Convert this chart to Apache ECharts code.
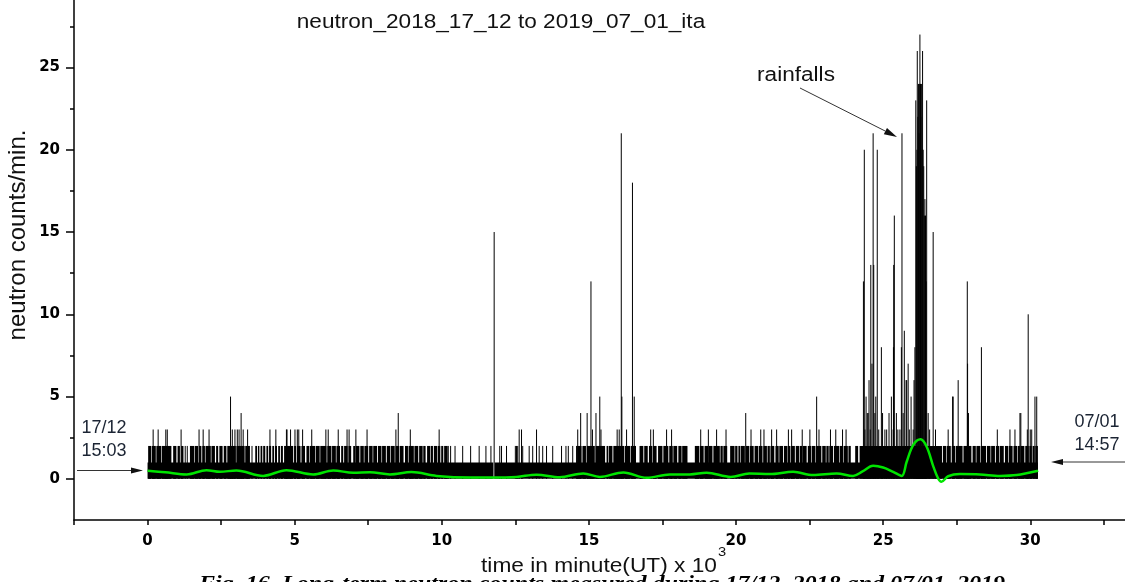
<!DOCTYPE html>
<html>
<head>
<meta charset="utf-8">
<script src="https://cdn.jsdelivr.net/npm/echarts@6/dist/echarts.min.js"></script>
<style>
  html, body { margin: 0; padding: 0; background: #fff; }
  #chart { width: 1125px; height: 582px; }
</style>
</head>
<body>
<div id="chart"></div>
<script>
// Neutron counts per minute, 17/12 15:03 to 07/01 14:57. Time axis in 10^3 minutes.

// counts of 0..1 are recorded all along, except a short hole in the record
const baseRuns = [[0.0, 11.75], [11.80, 30.26]];

// stretches where a count of 2 occurs almost every few minutes
const twoSpans = [[0.02, 10.2], [14.6, 30.26]];
// short stretches inside those where no 2 was counted
const twoGaps = [
  [0.12, 0.14], [0.28, 0.30], [0.46, 0.48], [0.81, 0.87], [0.98, 1.02], [1.10, 1.14],
  [1.22, 1.44], [1.58, 1.60], [1.72, 1.75], [1.83, 1.86], [1.95, 1.97], [2.15, 2.17],
  [2.29, 2.33], [2.40, 2.44], [2.55, 2.59], [2.68, 2.71], [3.00, 3.02], [3.30, 3.32],
  [3.48, 3.66], [3.72, 3.75], [3.80, 3.84], [3.90, 3.93], [4.00, 4.04], [4.10, 4.13],
  [4.20, 4.24], [4.30, 4.33], [4.40, 4.44], [4.50, 4.53], [4.60, 4.64], [4.95, 4.98],
  [5.05, 5.08], [5.20, 5.23], [5.35, 5.40], [5.50, 5.52], [5.70, 5.72], [5.85, 5.87],
  [6.08, 6.11], [6.25, 6.27], [6.40, 6.42], [6.54, 6.58], [6.65, 6.68], [6.80, 6.83],
  [6.92, 6.99], [7.05, 7.07], [7.20, 7.23], [7.35, 7.37], [7.50, 7.53], [7.65, 7.67],
  [7.80, 7.83], [7.95, 7.97], [8.10, 8.13], [8.25, 8.27], [8.40, 8.43], [8.55, 8.57],
  [8.70, 8.75], [8.85, 8.87], [9.05, 9.07], [9.20, 9.23], [9.35, 9.37], [9.45, 9.50],
  [9.60, 9.62], [9.70, 9.73], [9.85, 9.87], [9.95, 9.98], [10.05, 10.08],
  [14.75, 14.78], [14.90, 14.93], [15.20, 15.23], [15.55, 15.60], [15.65, 15.67],
  [15.80, 15.83], [16.20, 16.22], [16.40, 16.42], [16.60, 16.72], [16.85, 16.88],
  [17.00, 17.04], [17.15, 17.17], [17.30, 17.35], [17.50, 17.53], [17.70, 17.73],
  [17.85, 17.87], [18.00, 18.04], [18.15, 18.17], [18.35, 18.60], [18.75, 18.77],
  [18.90, 18.93], [19.05, 19.07], [19.20, 19.23], [19.45, 19.47], [19.55, 19.57],
  [19.70, 19.80], [19.95, 19.97], [20.05, 20.08], [20.15, 20.17], [20.30, 20.33],
  [20.45, 20.47], [20.60, 20.63], [20.75, 20.77], [20.90, 20.93], [21.05, 21.07],
  [21.15, 21.17], [21.30, 21.34], [21.45, 21.47], [21.60, 21.63], [21.75, 21.77],
  [21.85, 21.87], [22.00, 22.03], [22.15, 22.17], [22.25, 22.27], [22.40, 22.44],
  [22.55, 22.57], [22.70, 22.72], [22.90, 22.93], [23.05, 23.07], [23.15, 23.17],
  [23.30, 23.33], [23.50, 23.52], [23.65, 23.67], [23.80, 23.82], [23.90, 24.05],
  [24.15, 24.20], [27.00, 27.03], [27.15, 27.17], [27.30, 27.33], [27.45, 27.47],
  [27.70, 27.73], [27.85, 27.87], [28.00, 28.04], [28.15, 28.17], [28.30, 28.32],
  [28.50, 28.53], [28.65, 28.67], [28.80, 28.83], [28.95, 28.97], [29.10, 29.14],
  [29.25, 29.27], [29.40, 29.43], [29.55, 29.57], [29.65, 29.67], [29.80, 29.83],
  [29.95, 29.97], [30.05, 30.08], [30.15, 30.17]
];
// isolated minutes with a count of 2 in the quiet stretches
const twoSingles = [
  1.28, 1.35, 3.55, 10.22, 10.30, 10.45, 10.71, 10.98, 11.27, 11.50, 11.67, 11.97,
  12.03, 12.20, 12.50, 12.54, 12.58, 12.75, 12.97, 13.09, 13.31, 13.43, 13.56, 13.77,
  14.07, 14.22, 14.30, 14.45, 14.58
];

// counts of 3 and above
const spikeTime = [
  0.19, 0.36, 0.62, 0.67, 1.14, 1.75, 1.89, 2.09, 2.82, 2.88, 2.97, 3.05, 3.11, 3.18,
  3.25, 3.40, 4.16, 4.36, 4.72, 4.74, 4.86, 5.01, 5.09, 5.14, 5.27, 5.58, 6.06, 6.14,
  6.48, 6.78, 6.85, 7.08, 7.46, 8.44, 8.52, 8.93, 9.91, 11.78, 12.63, 12.71, 13.22,
  14.62, 14.72, 14.94, 15.07, 15.12, 15.24, 15.37, 15.41, 15.96, 16.03, 16.10, 16.12,
  16.28, 16.48, 16.54, 17.10, 17.19, 17.64, 17.81, 18.80, 19.06, 19.34, 19.66, 20.33,
  20.51, 20.84, 20.95, 21.21, 21.38, 21.78, 21.89, 22.25, 22.51, 22.74, 22.82, 23.21,
  23.39, 23.62, 23.74,
  24.33, 24.36, 24.38, 24.42, 24.46, 24.49, 24.52, 24.56, 24.58, 24.62, 24.66, 24.68,
  24.72, 24.75, 24.80, 24.85, 24.94, 24.98, 25.06, 25.12, 25.20, 25.28, 25.34, 25.35,
  25.36, 25.38, 25.45, 25.50, 25.57, 25.62, 25.64, 25.68, 25.72, 25.78, 25.80, 25.85,
  25.89, 25.95, 26.02, 26.05, 26.08, 26.11, 26.13, 26.15, 26.16, 26.18, 26.20, 26.22,
  26.23, 26.25, 26.27, 26.28, 26.30, 26.32, 26.34, 26.36, 26.38, 26.40, 26.42, 26.44,
  26.46, 26.48, 26.53, 26.58, 26.70, 26.78,
  27.21, 27.36, 27.38, 27.55, 27.86, 27.87, 27.90, 28.34, 28.88, 29.31, 29.48, 29.65,
  29.68, 29.90, 29.93, 30.00, 30.05, 30.16, 30.22
];
const spikeCount = [
  3, 3, 3, 3, 3, 3, 3, 3, 5, 3, 3, 3, 3, 4,
  3, 3, 3, 3, 3, 3, 3, 3, 3, 3, 3, 3, 3, 3,
  3, 3, 3, 3, 3, 3, 4, 3, 3, 15, 3, 3, 3,
  3, 4, 4, 12, 3, 4, 5, 3, 3, 3, 21, 5,
  3, 18, 5, 3, 3, 3, 3, 3, 3, 3, 3, 4,
  3, 3, 3, 3, 3, 3, 3, 3, 3, 5, 3, 3,
  3, 3, 3,
  12, 20, 3, 5, 4, 4, 6, 3, 13, 7, 21, 13,
  4, 5, 20, 3, 8, 4, 3, 3, 4, 5, 3, 8,
  13, 16, 4, 3, 3, 8, 21, 4, 9, 6, 6, 7,
  3, 5, 3, 6, 8, 23, 19, 20, 26, 22, 24, 21,
  24, 27, 24, 22, 24, 20, 26, 20, 19, 16, 17, 16,
  12, 23, 4, 3, 15, 3,
  3, 5, 5, 6, 12, 7, 4, 8, 3, 3, 3, 4,
  4, 3, 10, 3, 3, 5, 5
];

// running mean of the counts
const trendTime = [
  0.0, 0.6, 1.33, 2.0, 2.46, 3.02, 3.93, 4.72, 5.63, 6.31, 6.99, 7.56, 8.24, 8.97,
  9.82, 10.96, 11.75, 12.54, 13.22, 14.01, 14.81, 15.37, 16.17, 16.96, 17.75, 18.43,
  19.0, 19.82, 20.45, 21.15, 21.94, 22.62, 23.42, 23.98, 24.3, 24.66, 25.0, 25.34,
  25.63, 25.80, 26.02, 26.27, 26.48, 26.71, 26.87, 26.98, 27.21, 27.61, 28.29, 28.97,
  29.54, 30.27
];
const trendCount = [
  0.49, 0.40, 0.27, 0.53, 0.43, 0.51, 0.18, 0.53, 0.27, 0.51, 0.37, 0.40, 0.27, 0.41,
  0.18, 0.08, 0.08, 0.12, 0.25, 0.10, 0.33, 0.12, 0.39, 0.06, 0.27, 0.27,
  0.37, 0.12, 0.32, 0.29, 0.43, 0.23, 0.33, 0.18, 0.45, 0.79, 0.69, 0.43,
  0.18, 1.04, 2.05, 2.40, 1.95, 0.73, 0.02, -0.18, 0.16, 0.29, 0.27, 0.18,
  0.23, 0.49
];

const xTickValues = [-2.5, 0, 2.5, 5, 7.5, 10, 12.5, 15, 17.5, 20, 22.5, 25, 27.5, 30, 32.5];
const xLabelValues = [0, 5, 10, 15, 20, 25, 30];
const yLabelValues = [0, 5, 10, 15, 20, 25];
const yMinorValues = [2.5, 7.5, 12.5, 17.5, 22.5, 27.5];

// split the 2-count stretches at their gaps
function runsBetweenGaps(spans, gaps) {
  const runs = [];
  spans.forEach(function (span) {
    let cur = span[0];
    gaps.filter(function (g) { return g[0] >= span[0] && g[1] <= span[1]; })
      .sort(function (a, b) { return a[0] - b[0]; })
      .forEach(function (g) {
        if (g[0] > cur) runs.push([cur, g[0]]);
        cur = Math.max(cur, g[1]);
      });
    if (cur < span[1]) runs.push([cur, span[1]]);
  });
  return runs;
}

const bandData = baseRuns.map(function (r) { return [r[0], r[1], 1]; })
  .concat(runsBetweenGaps(twoSpans, twoGaps).map(function (r) { return [r[0], r[1], 2]; }));
const lineData = twoSingles.map(function (t) { return [t, 2]; })
  .concat(spikeTime.map(function (t, i) { return [t, spikeCount[i]]; }));
const trendData = trendTime.map(function (t, i) { return [t, trendCount[i]]; });

const FONT = '"Liberation Sans", Arial, sans-serif';
const TICK_FONT = '"DejaVu Sans", sans-serif';
const INK = '#000';

const chart = echarts.init(document.getElementById('chart'), null, { renderer: 'canvas' });

const valueAxisY = {
  type: 'value', min: -2.5, max: 29.1, position: 'left',
  splitLine: { show: false }
};

chart.setOption({
  animation: false,
  backgroundColor: '#fff',
  grid: { left: 74, right: 0, top: 0, bottom: 62, containLabel: false },
  xAxis: {
    type: 'value', min: -2.5, max: 33.22,
    axisLine: { onZero: false, lineStyle: { color: INK, width: 1.5 } },
    axisTick: { customValues: xTickValues, length: 5, lineStyle: { color: INK, width: 1.5 } },
    axisLabel: {
      customValues: xLabelValues, margin: 14,
      color: INK, fontFamily: TICK_FONT, fontWeight: 'bold', fontSize: 15
    },
    splitLine: { show: false }
  },
  yAxis: [
    Object.assign({}, valueAxisY, {
      axisLine: { onZero: false, lineStyle: { color: INK, width: 1.5 } },
      axisTick: { customValues: yLabelValues, length: 8, lineStyle: { color: INK, width: 1.5 } },
      axisLabel: {
        customValues: yLabelValues, margin: 14,
        color: INK, fontFamily: TICK_FONT, fontWeight: 'bold', fontSize: 15
      }
    }),
    Object.assign({}, valueAxisY, {
      axisLine: { show: false, onZero: false },
      axisTick: { customValues: yMinorValues, length: 4, lineStyle: { color: INK, width: 1.5 } },
      axisLabel: { show: false }
    })
  ],
  series: [
    {
      // 0..1 and 2-count stretches drawn as filled blocks
      type: 'custom',
      coordinateSystem: 'cartesian2d',
      encode: { x: [0, 1], y: 2 },
      data: bandData,
      renderItem: function (params, api) {
        const a = api.coord([api.value(0), 0]);
        const b = api.coord([api.value(1), api.value(2)]);
        return {
          type: 'rect',
          shape: { x: a[0], y: b[1], width: Math.max(b[0] - a[0], 0.5), height: a[1] - b[1] },
          style: { fill: INK }
        };
      },
      z: 2
    },
    {
      // single minutes drawn as vertical strokes from zero
      type: 'custom',
      coordinateSystem: 'cartesian2d',
      encode: { x: 0, y: 1 },
      data: lineData,
      renderItem: function (params, api) {
        const a = api.coord([api.value(0), 0]);
        const b = api.coord([api.value(0), api.value(1)]);
        return {
          type: 'line',
          shape: { x1: a[0], y1: a[1], x2: b[0], y2: b[1] },
          style: { stroke: INK, lineWidth: 1 }
        };
      },
      z: 3
    },
    {
      type: 'line',
      data: trendData,
      smooth: 0.35,
      showSymbol: false,
      symbol: 'none',
      lineStyle: { color: '#00e400', width: 2.5 },
      z: 5
    }
  ]
});

// arrow helper for the annotations
function arrow(x1, y1, x2, y2, headLen, headHalf) {
  const dx = x2 - x1, dy = y2 - y1, len = Math.sqrt(dx * dx + dy * dy);
  const ux = dx / len, uy = dy / len;
  const bx = x2 - ux * headLen, by = y2 - uy * headLen;
  return [
    { type: 'line', shape: { x1: x1, y1: y1, x2: bx, y2: by },
      style: { stroke: '#333', lineWidth: 1 }, z: 20 },
    { type: 'polygon',
      shape: { points: [[x2, y2], [bx - uy * headHalf, by + ux * headHalf], [bx + uy * headHalf, by - ux * headHalf]] },
      style: { fill: '#111' }, z: 20 }
  ];
}

function label(text, x, y, size, opts) {
  const o = opts || {};
  return {
    type: 'text', x: x, y: y, z: 20,
    rotation: o.rotation || 0,
    scaleX: o.scaleX || 1,
    scaleY: o.scaleY || 1,
    style: {
      text: text, font: size + 'px ' + FONT, fill: o.fill || '#111',
      align: 'center', verticalAlign: 'middle'
    }
  };
}

const NOTE = '#1b2433';
const graphics = [
  label('neutron_2018_17_12 to 2019_07_01_ita', 501, 22, 20, { scaleX: 1.13 }),
  label('neutron counts/min.', 18, 235, 24, { rotation: Math.PI / 2 }),
  label('time in minute(UT) x 10', 599, 566, 20, { scaleX: 1.135 }),
  label('3', 722, 552, 13, { scaleX: 1.13 }),
  label('rainfalls', 796, 75, 20, { scaleX: 1.13 }),
  label('17/12', 104, 428, 18, { fill: NOTE }),
  label('15:03', 104, 451, 18, { fill: NOTE }),
  label('07/01', 1097, 422, 18, { fill: NOTE }),
  label('14:57', 1097, 445, 18, { fill: NOTE }),
  {
    type: 'text', x: 199, y: 595, z: 20, scaleX: 1.12,
    style: {
      text: 'Fig. 16. Long-term neutron counts measured during 17/12, 2018 and 07/01, 2019',
      font: 'italic bold 21.5px "Liberation Serif", "Times New Roman", serif',
      fill: '#000', align: 'left', verticalAlign: 'bottom'
    }
  }
]
  .concat(arrow(800, 88, 897, 137, 13, 3.5))
  .concat(arrow(77, 470.5, 143, 470.5, 12, 3))
  .concat(arrow(1125, 462, 1051, 462, 12, 3));

chart.setOption({ graphic: graphics });
</script>
</body>
</html>
